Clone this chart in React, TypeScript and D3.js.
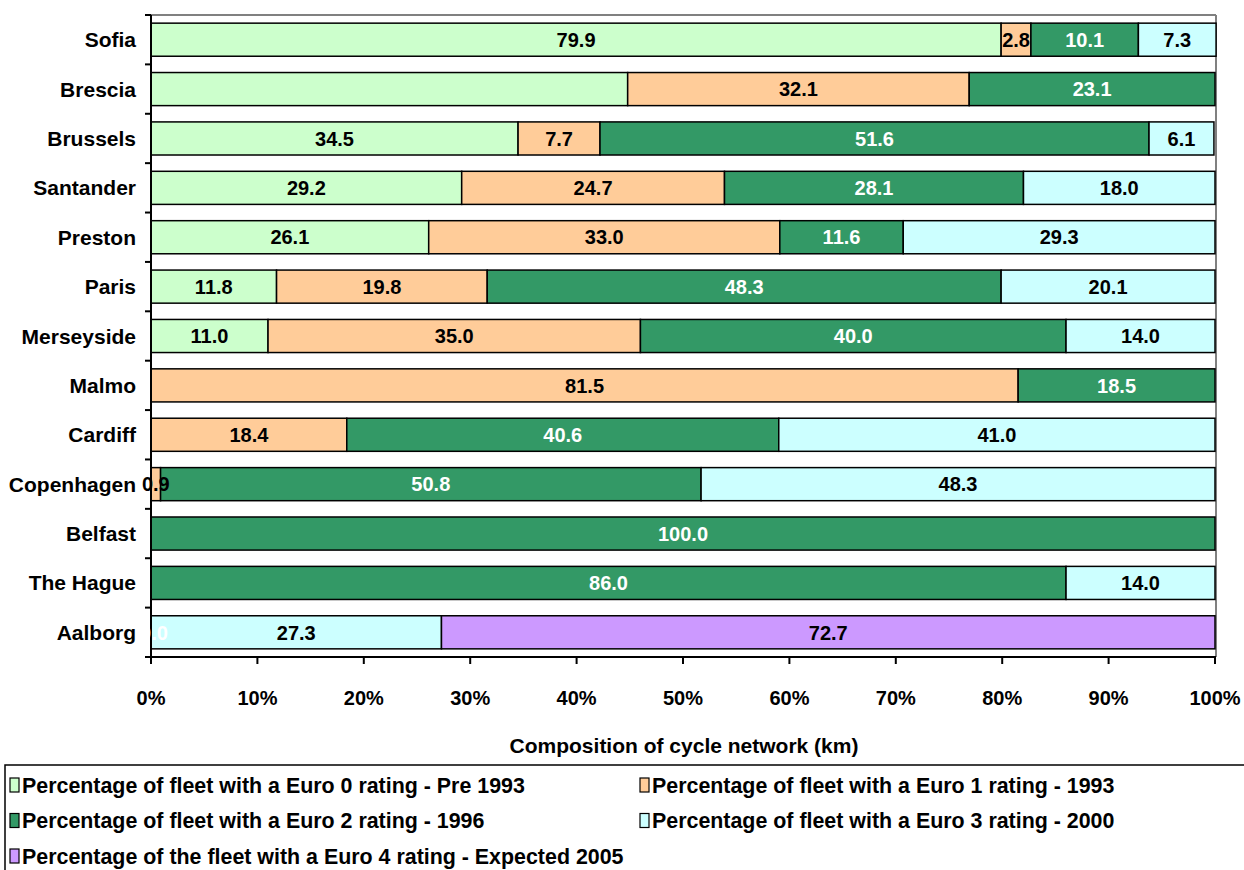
import * as d3 from "d3";

const cities = ["Sofia", "Brescia", "Brussels", "Santander", "Preston", "Paris", "Merseyside", "Malmo", "Cardiff", "Copenhagen", "Belfast", "The Hague", "Aalborg"];

const euro0 = [79.9, 44.8, 34.5, 29.2, 26.1, 11.8, 11.0, null, null, null, null, null, null];
const euro1 = [2.8, 32.1, 7.7, 24.7, 33.0, 19.8, 35.0, 81.5, 18.4, 0.9, null, null, null];
const euro2 = [10.1, 23.1, 51.6, 28.1, 11.6, 48.3, 40.0, 18.5, 40.6, 50.8, 100.0, 86.0, 0.0];
const euro3 = [7.3, null, 6.1, 18.0, 29.3, 20.1, 14.0, null, 41.0, 48.3, null, 14.0, 27.3];
const euro4 = [null, null, null, null, null, null, null, null, null, null, null, null, 72.7];

const seriesNames = [
  "Percentage of fleet with a Euro 0 rating - Pre 1993",
  "Percentage of fleet with a Euro 1 rating - 1993",
  "Percentage of fleet with a Euro 2 rating - 1996",
  "Percentage of fleet with a Euro 3 rating - 2000",
  "Percentage of the fleet with a Euro 4 rating - Expected 2005",
];
const colors = ["#CCFFCC", "#FFCC99", "#339966", "#CCFFFF", "#CC99FF"];
const labelColors = ["#000", "#000", "#fff", "#000", "#000"];
// labels that the original chart does not show
const hiddenLabels = [["Brescia", 0]];

const W = 1244;
const H = 870;
const m = { left: 151, right: 1215, top: 15, bottom: 657 };
const font = "'Liberation Sans', Arial, sans-serif";

export default function App() {
  const series = [euro0, euro1, euro2, euro3, euro4];
  const x = d3.scaleLinear().domain([0, 100]).range([m.left, m.right]);
  const y = d3.scaleBand().domain(cities).range([m.top, m.bottom]).paddingInner(0.33).paddingOuter(0.165);

  const segs: any[] = [];
  cities.forEach((c, ci) => {
    let acc = 0;
    series.forEach((s, si) => {
      const v = s[ci];
      if (v == null) return;
      segs.push({ city: c, si, x0: acc, x1: acc + v, v });
      acc += v;
    });
  });
  const isHidden = (d: any) => hiddenLabels.some(([c, s]) => c === d.city && s === d.si);

  const step = (m.bottom - m.top) / cities.length;
  const yTicks = d3.range(cities.length + 1).map((i) => m.top + i * step);
  const xTicks = d3.range(0, 101, 10);

  const legend = seriesNames.map((n, i) => ({ n, i, col: i % 2, row: Math.floor(i / 2) }));

  return (
    <svg width={W} height={H} style={{ position: "absolute", left: 0, top: 0 }} fontFamily={font} fontWeight="bold">
      <rect width={W} height={H} fill="#fff" />
      {/* plot frame: grey top & right */}
      <line x1={m.left} x2={m.right + 1} y1={m.top} y2={m.top} stroke="#808080" strokeWidth={2} />
      <line x1={m.right + 1} x2={m.right + 1} y1={m.top} y2={m.bottom} stroke="#808080" strokeWidth={2} />
      <g>
        {segs.map((d, i) => (
          <rect key={i} x={x(d.x0)} y={y(d.city)!} width={x(d.x1) - x(d.x0)} height={y.bandwidth()}
            fill={colors[d.si]} stroke="#000" strokeWidth={1.5} />
        ))}
      </g>
      {/* axes */}
      <line x1={m.left} x2={m.left} y1={m.top} y2={m.bottom + 5} stroke="#000" strokeWidth={2} />
      <line x1={m.left - 6} x2={m.right + 1} y1={m.bottom} y2={m.bottom} stroke="#000" strokeWidth={2} />
      {yTicks.map((t, i) => (
        <line key={i} x1={m.left - 6} x2={m.left} y1={t} y2={t} stroke="#000" strokeWidth={2} />
      ))}
      <g fontSize={20} textAnchor="middle">
        {segs.filter((d) => !isHidden(d)).map((d, i) => (
          <text key={i} x={(x(d.x0) + x(d.x1)) / 2 + (d.v === 0 ? 3 : 0)} y={y(d.city)! + y.bandwidth() / 2} dy="0.36em" fill={labelColors[d.si]}>
            {d.v.toFixed(1)}
          </text>
        ))}
      </g>
      {xTicks.map((t) => (
        <g key={t}>
          <line x1={x(t)} x2={x(t)} y1={m.bottom} y2={m.bottom + 7} stroke="#000" strokeWidth={2} />
          <text x={x(t)} y={698} dy="0.36em" textAnchor="middle" fontSize={20}>{t}%</text>
        </g>
      ))}
      <g fontSize={21} textAnchor="end">
        {cities.map((c) => (
          <text key={c} x={136} y={y(c)! + y.bandwidth() / 2} dy="0.36em">{c}</text>
        ))}
      </g>
      <text x={(m.left + m.right) / 2 + 1} y={745} dy="0.36em" textAnchor="middle" fontSize={21}>
        Composition of cycle network (km)
      </text>
      {/* legend */}
      <rect x={5} y={765} width={1300} height={200} fill="none" stroke="#000" strokeWidth={1.5} />
      {legend.map((d) => {
        const lx = d.col === 0 ? 10 : 640;
        const ly = 785 + d.row * 35.5;
        return (
          <g key={d.i}>
            <rect x={lx} y={ly - 7} width={9} height={14} fill={colors[d.i]} stroke="#000" strokeWidth={1.2} />
            <text x={lx + 12} y={ly} dy="0.36em" fontSize={21.4}>{d.n}</text>
          </g>
        );
      })}
    </svg>
  );
}
